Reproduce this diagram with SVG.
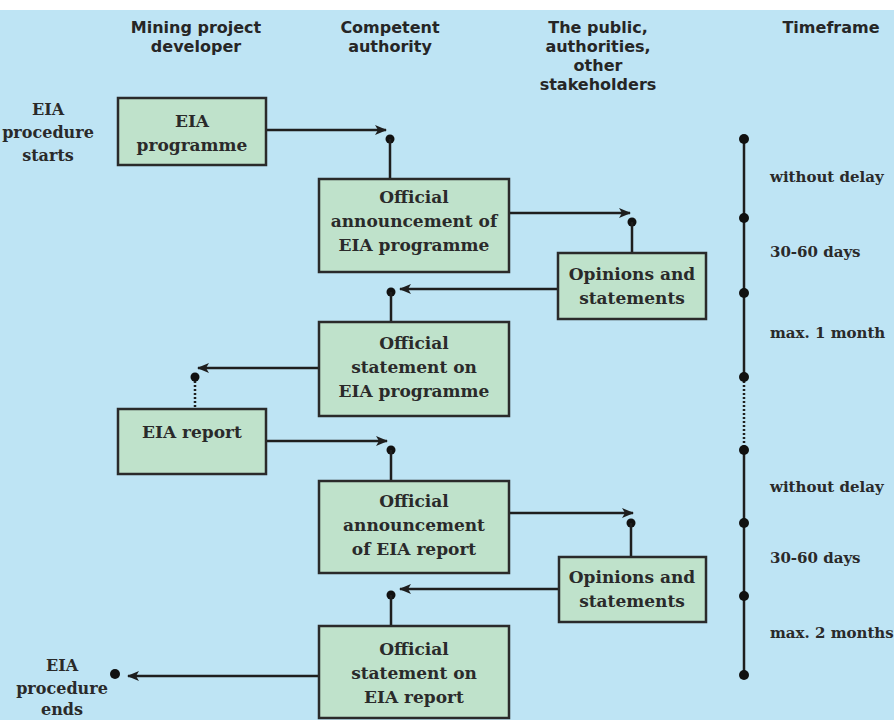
<svg xmlns="http://www.w3.org/2000/svg" width="894" height="720" viewBox="0 0 894 720">
<defs>
<marker id="arr" viewBox="0 0 12 10" refX="11" refY="5" markerWidth="12" markerHeight="10" markerUnits="userSpaceOnUse" orient="auto">
<path d="M0,0 L12,5 L0,10 L3,5 z" fill="#1e1e1e"/>
</marker>
<style>
.hd{font-family:"DejaVu Sans","Liberation Sans",sans-serif;font-weight:bold;font-size:16px;fill:#262626;text-anchor:middle}
.bx{fill:#bfe2cb;stroke:#2a2a2a;stroke-width:2.5}
.nt{font-family:"DejaVu Serif","Liberation Serif",serif;font-weight:bold;font-size:17px;fill:#2a2a2a;text-anchor:middle}
.lb{font-family:"DejaVu Serif","Liberation Serif",serif;font-weight:bold;font-size:16px;fill:#2a2a2a;text-anchor:middle}
.tf{font-family:"DejaVu Serif","Liberation Serif",serif;font-weight:bold;font-size:15px;fill:#2a2a2a}
.ln{fill:none;stroke:#1e1e1e;stroke-width:2.5}
.dt{fill:none;stroke:#1e1e1e;stroke-width:2.5;stroke-dasharray:2 2}
.dot{fill:#111}
</style>
</defs>
<rect x="0" y="0" width="894" height="720" fill="#ffffff"/>
<rect x="0" y="10" width="894" height="710" fill="#bee4f4"/>

<g id="headers">
<text class="hd" x="196" y="33">Mining project</text>
<text class="hd" x="196" y="52">developer</text>
<text class="hd" x="390" y="33">Competent</text>
<text class="hd" x="390" y="52">authority</text>
<text class="hd" x="598" y="33">The public,</text>
<text class="hd" x="598" y="52">authorities,</text>
<text class="hd" x="598" y="71">other</text>
<text class="hd" x="598" y="90">stakeholders</text>
<text class="hd" x="831" y="33">Timeframe</text>
</g>

<g id="label-start">
<text class="lb" x="48" y="115">EIA</text>
<text class="lb" x="48" y="138">procedure</text>
<text class="lb" x="48" y="161">starts</text>
</g>
<g id="label-end">
<text class="lb" x="62" y="671">EIA</text>
<text class="lb" x="62" y="694">procedure</text>
<text class="lb" x="62" y="715">ends</text>
</g>

<g id="connectors">
<line class="ln" x1="266" y1="130" x2="386" y2="130" marker-end="url(#arr)"/>
<circle class="dot" cx="390" cy="139" r="4.5"/>
<line class="ln" x1="390" y1="139" x2="390" y2="179"/>

<line class="ln" x1="509" y1="213" x2="630" y2="213" marker-end="url(#arr)"/>
<circle class="dot" cx="632" cy="222" r="4.5"/>
<line class="ln" x1="632" y1="222" x2="632" y2="253"/>

<line class="ln" x1="558" y1="289" x2="400" y2="289" marker-end="url(#arr)"/>
<circle class="dot" cx="391" cy="292" r="4.5"/>
<line class="ln" x1="391" y1="292" x2="391" y2="322"/>

<line class="ln" x1="319" y1="368" x2="198" y2="368" marker-end="url(#arr)"/>
<circle class="dot" cx="195" cy="377" r="4.5"/>
<line class="dt" x1="195" y1="381" x2="195" y2="409"/>

<line class="ln" x1="266" y1="441" x2="387" y2="441" marker-end="url(#arr)"/>
<circle class="dot" cx="391" cy="450" r="4.5"/>
<line class="ln" x1="391" y1="450" x2="391" y2="481"/>

<line class="ln" x1="509" y1="513" x2="633" y2="513" marker-end="url(#arr)"/>
<circle class="dot" cx="631" cy="523" r="4.5"/>
<line class="ln" x1="631" y1="523" x2="631" y2="557"/>

<line class="ln" x1="559" y1="589" x2="400" y2="589" marker-end="url(#arr)"/>
<circle class="dot" cx="391" cy="595" r="4.5"/>
<line class="ln" x1="391" y1="595" x2="391" y2="626"/>

<line class="ln" x1="319" y1="676" x2="128" y2="676" marker-end="url(#arr)"/>
<circle class="dot" cx="115" cy="674" r="5"/>
</g>

<g id="timeline">
<line class="ln" x1="744" y1="139" x2="744" y2="377"/>
<line class="dt" x1="744" y1="377" x2="744" y2="450"/>
<line class="ln" x1="744" y1="450" x2="744" y2="675"/>
<circle class="dot" cx="744" cy="139" r="5"/>
<circle class="dot" cx="744" cy="218" r="5"/>
<circle class="dot" cx="744" cy="293" r="5"/>
<circle class="dot" cx="744" cy="377" r="5"/>
<circle class="dot" cx="744" cy="450" r="5"/>
<circle class="dot" cx="744" cy="523" r="5"/>
<circle class="dot" cx="744" cy="596" r="5"/>
<circle class="dot" cx="744" cy="675" r="5"/>
<text class="tf" x="770" y="182">without delay</text>
<text class="tf" x="770" y="257">30-60 days</text>
<text class="tf" x="770" y="338">max. 1 month</text>
<text class="tf" x="770" y="492">without delay</text>
<text class="tf" x="770" y="563">30-60 days</text>
<text class="tf" x="770" y="638">max. 2 months</text>
</g>

<g id="eia-programme">
<rect class="bx" x="118" y="98" width="148" height="67"/>
<text class="nt" x="192" y="127">EIA</text>
<text class="nt" x="192" y="151">programme</text>
</g>
<g id="announcement-programme">
<rect class="bx" x="319" y="179" width="190" height="93"/>
<text class="nt" x="414" y="203">Official</text>
<text class="nt" x="414" y="227">announcement of</text>
<text class="nt" x="414" y="251">EIA programme</text>
</g>
<g id="opinions-1">
<rect class="bx" x="558" y="253" width="148" height="66"/>
<text class="nt" x="632" y="280">Opinions and</text>
<text class="nt" x="632" y="304">statements</text>
</g>
<g id="statement-programme">
<rect class="bx" x="319" y="322" width="190" height="94"/>
<text class="nt" x="414" y="349">Official</text>
<text class="nt" x="414" y="373">statement on</text>
<text class="nt" x="414" y="397">EIA programme</text>
</g>
<g id="eia-report">
<rect class="bx" x="118" y="409" width="148" height="65"/>
<text class="nt" x="192" y="438">EIA report</text>
</g>
<g id="announcement-report">
<rect class="bx" x="319" y="481" width="190" height="92"/>
<text class="nt" x="414" y="507">Official</text>
<text class="nt" x="414" y="531">announcement</text>
<text class="nt" x="414" y="555">of EIA report</text>
</g>
<g id="opinions-2">
<rect class="bx" x="559" y="557" width="147" height="65"/>
<text class="nt" x="632" y="583">Opinions and</text>
<text class="nt" x="632" y="607">statements</text>
</g>
<g id="statement-report">
<rect class="bx" x="319" y="626" width="190" height="92"/>
<text class="nt" x="414" y="655">Official</text>
<text class="nt" x="414" y="679">statement on</text>
<text class="nt" x="414" y="703">EIA report</text>
</g>
</svg>
